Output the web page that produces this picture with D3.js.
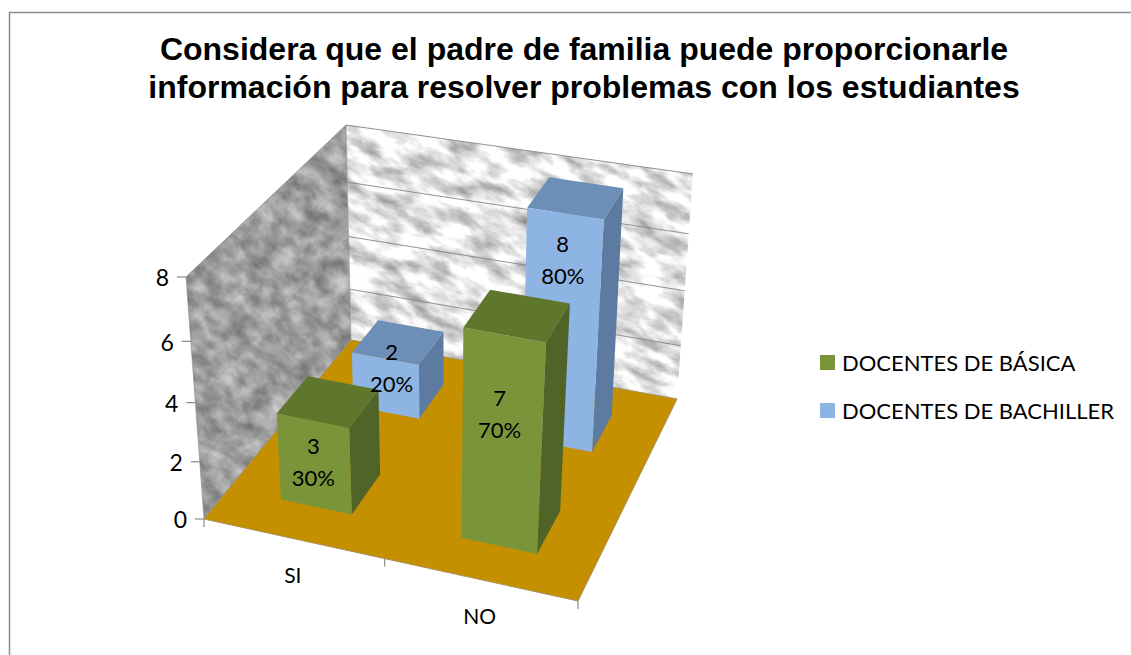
<!DOCTYPE html>
<html><head><meta charset="utf-8">
<style>html,body{margin:0;padding:0;background:#fff}svg{display:block}
text{font-family:Lato,"Open Sans",sans-serif;fill:#000}</style>
<script src="https://cdn.jsdelivr.net/npm/d3@7"></script></head><body>
<svg id="c" width="1131" height="655"></svg>
<script>
const titleLines = ["Considera que el padre de familia puede proporcionarle","información para resolver problemas con los estudiantes"];
const categories = ["SI","NO"];
const seriesNames = ["DOCENTES DE BÁSICA","DOCENTES DE BACHILLER"];
const basica = [3,7];
const bachiller = [2,8];
const basicaPct = ["30%","70%"];
const bachillerPct = ["20%","80%"];
const valueTicks = [0,2,4,6,8];

// chart box geometry
const floorQuad = [[204,519],[578,601],[677,399],[351,340]];
const topQuad   = [[186,277],[595,354],[693,174],[346,125]];
const warp = [0,.2365,.481,.734,1];
const labelNudgeY = [[-2,-30],[-17,-74]];
const labelNudgeX = [[-1,-2],[6,2]];
const palette = [{front:"#7a9439",top:"#5f762d",side:"#4f6426"},{front:"#8db4e3",top:"#6d8eb7",side:"#5d7ba1"}];

function quadMap(q){
  const [[x0,y0],[x1,y1],[x2,y2],[x3,y3]]=q;
  const dx1=x1-x2,dx2=x3-x2,sx=x0-x1+x2-x3,dy1=y1-y2,dy2=y3-y2,sy=y0-y1+y2-y3;
  const den=dx1*dy2-dx2*dy1,g=(sx*dy2-dx2*sy)/den,h=(dx1*sy-sx*dy1)/den;
  const a=x1-x0+g*x1,b=x3-x0+h*x3,d=y1-y0+g*y1,e=y3-y0+h*y3;
  return (u,v)=>{const w=g*u+h*v+1;return [(a*u+b*v+x0)/w,(d*u+e*v+y0)/w];};
}
const floorAt=quadMap(floorQuad), topAt=quadMap(topQuad);
const yScale=d3.scaleLinear().domain(valueTicks).range(warp);
const P=(u,val,v)=>{const f=floorAt(u,v),t=topAt(u,v),k=yScale(val);return [f[0]+(t[0]-f[0])*k,f[1]+(t[1]-f[1])*k];};
const xBand=d3.scaleBand().domain(categories).range([0,1]).paddingInner(.6).paddingOuter(.3);
const zBand=d3.scaleBand().domain(seriesNames).range([0,1]).paddingInner(.6).paddingOuter(.3);
const xOuter=d3.scaleBand().domain(categories).range([0,1]);

const svg=d3.select("#c");
const defs=svg.append("defs");
function marble(id,freq,seed,m,o){
  const f=defs.append("filter").attr("id",id).attr("x",0).attr("y",0).attr("width","100%").attr("height","100%")
    .attr("color-interpolation-filters","sRGB");
  f.append("feTurbulence").attr("type","fractalNoise").attr("baseFrequency",freq).attr("numOctaves",6).attr("seed",seed);
  f.append("feColorMatrix").attr("type","matrix")
   .attr("values",`${m} 0 0 0 ${o} ${m} 0 0 0 ${o} ${m} 0 0 0 ${o+.005} 0 0 0 0 1`);
  f.append("feGaussianBlur").attr("stdDeviation",.6);
}
marble("mBack","0.03 0.07",7,.85,.47);
marble("mLeft","0.05 0.07",3,.5,.37);
const line=d3.line();
const poly=pts=>line(pts)+"Z";
function wall(id,pts,filter,rot){
  defs.append("clipPath").attr("id",id).append("path").attr("d",poly(pts));
  const xs=pts.map(p=>p[0]),ys=pts.map(p=>p[1]);
  const cx=d3.mean(xs),cy=d3.mean(ys);
  svg.append("g").attr("clip-path",`url(#${id})`)
    .append("rect").attr("x",cx-600).attr("y",cy-600).attr("width",1200).attr("height",1200)
    .attr("transform",`rotate(${rot} ${cx} ${cy})`).attr("filter",`url(#${filter})`);
}
// border
svg.append("path").attr("d","M9.5,655V12.5H1131").attr("fill","none").attr("stroke","#8c8c8c").attr("stroke-width",1.5);
// title
svg.append("g").selectAll("text").data(titleLines).join("text")
  .attr("x",584).attr("y",(d,i)=>60+i*38).attr("text-anchor","middle")
  .style("font-family","'Liberation Sans',Arial,sans-serif").style("font-weight","bold").style("font-size","32px").text(d=>d);
// walls
const leftWall=[P(0,0,0),P(0,0,1),P(0,8,1),P(0,8,0)];
const backWall=[P(0,0,1),P(1,0,1),P(1,8,1),P(0,8,1)];
wall("cl",leftWall,"mLeft",35);
wall("cb",backWall,"mBack",25);
// gridlines
valueTicks.slice(1).forEach(t=>{
  svg.append("path").attr("d",line([P(0,t,0),P(0,t,1)])).attr("fill","none").attr("stroke","#7f7f7f").attr("stroke-opacity",.3);
  svg.append("path").attr("d",line([P(0,t,1),P(1,t,1)])).attr("fill","none").attr("stroke","#7f7f7f").attr("stroke-opacity",.85);
});
svg.append("path").attr("d",poly(leftWall)).attr("fill","none").attr("stroke","#8a8a8a").attr("stroke-width",.6);
// floor
svg.append("path").attr("d",poly(floorQuad)).attr("fill","#c49000").attr("stroke","#a98f5a").attr("stroke-width",1);
// axes ticks
valueTicks.forEach(t=>{
  const p=P(0,t,0);
  svg.append("line").attr("x1",p[0]-9).attr("x2",p[0]).attr("y1",p[1]).attr("y2",p[1]).attr("stroke","#8a8a8a").attr("stroke-width",1.2);
  svg.append("text").attr("x",p[0]-17).attr("y",p[1]+1).attr("dy",".36em").attr("text-anchor","end").style("font-size","23px").text(t);
});
[0,.5,1].forEach(u=>{const p=P(u,0,0);
  svg.append("line").attr("x1",p[0]).attr("x2",p[0]).attr("y1",p[1]).attr("y2",p[1]+8).attr("stroke","#8a8a8a").attr("stroke-width",1.2);});
categories.forEach(c=>{const p=P(xOuter(c)+xOuter.bandwidth()/2,0,0);
  svg.append("text").attr("x",p[0]).attr("y",p[1]+37).attr("dy",".36em").attr("text-anchor","middle").style("font-size","21px").text(c);});
// bars, back series first
const series=[{name:seriesNames[1],vals:bachiller,pct:bachillerPct,pal:palette[1],ny:labelNudgeY[1],nx:labelNudgeX[1]},
              {name:seriesNames[0],vals:basica,pct:basicaPct,pal:palette[0],ny:labelNudgeY[0],nx:labelNudgeX[0]}];
const labels=[];
series.forEach(s=>{
  categories.forEach((c,i)=>{
    const u0=xBand(c),u1=u0+xBand.bandwidth(),v0=zBand(s.name),v1=v0+zBand.bandwidth(),h=s.vals[i];
    svg.append("path").attr("d",poly([P(u1,0,v0),P(u1,0,v1),P(u1,h,v1),P(u1,h,v0)])).attr("fill",s.pal.side);
    svg.append("path").attr("d",poly([P(u0,h,v0),P(u1,h,v0),P(u1,h,v1),P(u0,h,v1)])).attr("fill",s.pal.top);
    svg.append("path").attr("d",poly([P(u0,0,v0),P(u1,0,v0),P(u1,h,v0),P(u0,h,v0)])).attr("fill",s.pal.front);
    const a=P((u0+u1)/2,h/2,v0);
    labels.push({x:a[0]+s.nx[i],y:a[1]+s.ny[i],v:h,p:s.pct[i]});
  });
});
labels.forEach(l=>{
  svg.append("text").attr("x",l.x).attr("y",l.y-16).attr("dy",".36em").attr("text-anchor","middle").style("font-size","22px").text(l.v);
  svg.append("text").attr("x",l.x).attr("y",l.y+16).attr("dy",".36em").attr("text-anchor","middle").style("font-size","22px").text(l.p);
});
// legend
seriesNames.forEach((n,i)=>{
  const y=355+i*48;
  svg.append("rect").attr("x",820).attr("y",y).attr("width",15).attr("height",15).attr("fill",palette[i].front);
  svg.append("text").attr("x",842).attr("y",y+8).attr("dy",".36em").style("font-size","22px").text(n);
});
</script></body></html>
